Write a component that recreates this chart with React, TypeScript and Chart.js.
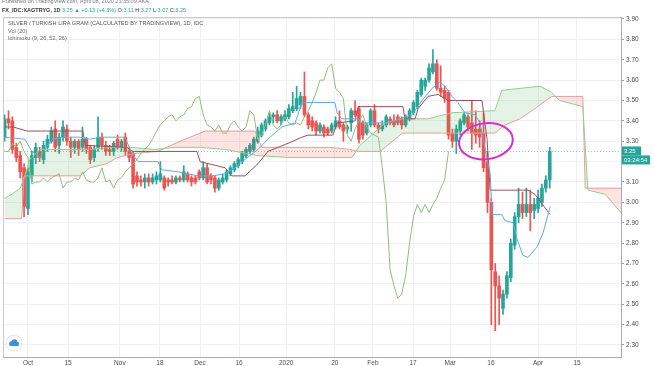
import React, { useEffect, useRef } from 'react';
import { Chart, registerables } from 'chart.js';
Chart.register(...registerables);

// ---- daily candles (bar index 0 .. 140) ----
const opens = [
  3.32, 3.41, 3.40, 3.27, 3.23, 3.17, 2.97, 3.13, 3.22, 3.25,
  3.21, 3.27, 3.30, 3.36, 3.28, 3.32, 3.36, 3.30, 3.27, 3.30,
  3.27, 3.31, 3.27, 3.22, 3.27, 3.32, 3.28, 3.26, 3.25, 3.31,
  3.27, 3.32, 3.25, 3.24, 3.13, 3.11, 3.10, 3.12, 3.10, 3.11,
  3.11, 3.12, 3.11, 3.11, 3.10, 3.12, 3.11, 3.14, 3.12, 3.12,
  3.15, 3.12, 3.17, 3.13, 3.12, 3.07, 3.10, 3.11, 3.14, 3.16,
  3.18, 3.20, 3.23, 3.25, 3.26, 3.30, 3.33, 3.36, 3.39, 3.42,
  3.43, 3.40, 3.41, 3.42, 3.45, 3.46, 3.48, 3.52, 3.43, 3.40,
  3.39, 3.35, 3.37, 3.36, 3.35, 3.37, 3.40, 3.38, 3.36, 3.39,
  3.45, 3.46, 3.39, 3.34, 3.38, 3.45, 3.38, 3.36, 3.38, 3.41,
  3.40, 3.42, 3.41, 3.38, 3.41, 3.44, 3.47, 3.53, 3.57, 3.60,
  3.64, 3.68, 3.56, 3.55, 3.54, 3.34, 3.30, 3.35, 3.39, 3.42,
  3.39, 3.36, 3.36, 3.34, 3.20, 3.00, 2.66, 2.59, 2.48, 2.55,
  2.63, 2.79, 2.93, 2.99, 2.95, 2.99, 2.96, 2.97, 3.00, 3.07,
  3.11,
];
const highs = [
  3.43, 3.45, 3.42, 3.29, 3.25, 3.19, 3.17, 3.25, 3.29, 3.27,
  3.30, 3.33, 3.37, 3.40, 3.34, 3.40, 3.38, 3.32, 3.31, 3.31,
  3.37, 3.32, 3.28, 3.28, 3.42, 3.34, 3.30, 3.28, 3.30, 3.33,
  3.31, 3.34, 3.27, 3.25, 3.15, 3.13, 3.14, 3.14, 3.14, 3.15,
  3.20, 3.13, 3.12, 3.13, 3.13, 3.13, 3.18, 3.15, 3.13, 3.13,
  3.16, 3.20, 3.19, 3.14, 3.13, 3.12, 3.14, 3.16, 3.18, 3.20,
  3.22, 3.25, 3.27, 3.29, 3.32, 3.37, 3.39, 3.41, 3.44, 3.44,
  3.45, 3.43, 3.45, 3.48, 3.54, 3.57, 3.54, 3.64, 3.44, 3.42,
  3.40, 3.39, 3.38, 3.37, 3.39, 3.42, 3.45, 3.39, 3.38, 3.46,
  3.50, 3.47, 3.40, 3.39, 3.46, 3.48, 3.39, 3.40, 3.43, 3.42,
  3.43, 3.43, 3.42, 3.43, 3.46, 3.50, 3.55, 3.61, 3.61, 3.68,
  3.75, 3.70, 3.67, 3.57, 3.55, 3.36, 3.38, 3.41, 3.44, 3.43,
  3.50, 3.45, 3.40, 3.44, 3.25, 3.02, 2.70, 2.64, 2.57, 2.66,
  2.82, 2.95, 3.07, 3.05, 3.07, 3.06, 3.02, 3.06, 3.09, 3.13,
  3.27,
];
const lows = [
  3.30, 3.36, 3.24, 3.20, 3.12, 2.93, 2.94, 3.10, 3.19, 3.20,
  3.19, 3.25, 3.29, 3.25, 3.24, 3.30, 3.28, 3.22, 3.24, 3.23,
  3.25, 3.24, 3.19, 3.20, 3.25, 3.26, 3.23, 3.23, 3.23, 3.26,
  3.25, 3.23, 3.20, 3.07, 3.08, 3.08, 3.07, 3.08, 3.09, 3.09,
  3.10, 3.06, 3.08, 3.09, 3.09, 3.10, 3.10, 3.10, 3.08, 3.09,
  3.11, 3.11, 3.09, 3.09, 3.05, 3.06, 3.09, 3.10, 3.13, 3.15,
  3.17, 3.19, 3.22, 3.24, 3.25, 3.29, 3.32, 3.35, 3.38, 3.39,
  3.39, 3.38, 3.40, 3.41, 3.44, 3.45, 3.46, 3.42, 3.36, 3.35,
  3.33, 3.34, 3.32, 3.33, 3.34, 3.36, 3.36, 3.30, 3.34, 3.35,
  3.42, 3.29, 3.31, 3.33, 3.37, 3.37, 3.34, 3.35, 3.37, 3.38,
  3.37, 3.38, 3.36, 3.37, 3.40, 3.43, 3.46, 3.52, 3.55, 3.59,
  3.63, 3.55, 3.52, 3.49, 3.31, 3.27, 3.24, 3.33, 3.38, 3.35,
  3.26, 3.29, 3.27, 3.15, 2.95, 2.40, 2.37, 2.40, 2.45, 2.53,
  2.61, 2.77, 2.90, 2.92, 2.93, 2.86, 2.92, 2.95, 2.98, 3.05,
  3.07,
];
const closes = [
  3.41, 3.39, 3.26, 3.22, 3.15, 2.98, 3.15, 3.23, 3.27, 3.22,
  3.28, 3.31, 3.35, 3.27, 3.32, 3.37, 3.30, 3.27, 3.30, 3.26,
  3.31, 3.26, 3.21, 3.26, 3.32, 3.28, 3.25, 3.25, 3.29, 3.27,
  3.30, 3.25, 3.22, 3.09, 3.10, 3.10, 3.12, 3.10, 3.12, 3.13,
  3.14, 3.07, 3.10, 3.10, 3.12, 3.11, 3.15, 3.11, 3.10, 3.10,
  3.12, 3.17, 3.10, 3.11, 3.07, 3.11, 3.12, 3.15, 3.17, 3.19,
  3.21, 3.24, 3.26, 3.28, 3.31, 3.35, 3.38, 3.40, 3.42, 3.43,
  3.40, 3.42, 3.43, 3.46, 3.47, 3.51, 3.52, 3.43, 3.38, 3.37,
  3.35, 3.38, 3.34, 3.34, 3.38, 3.40, 3.37, 3.35, 3.37, 3.45,
  3.43, 3.31, 3.33, 3.38, 3.45, 3.38, 3.36, 3.38, 3.42, 3.39,
  3.38, 3.39, 3.38, 3.42, 3.45, 3.49, 3.54, 3.60, 3.60, 3.66,
  3.68, 3.56, 3.54, 3.51, 3.33, 3.30, 3.36, 3.40, 3.43, 3.37,
  3.34, 3.33, 3.32, 3.17, 3.00, 2.67, 2.59, 2.53, 2.55, 2.64,
  2.80, 2.93, 2.99, 2.95, 2.99, 2.95, 2.99, 3.02, 3.07, 3.11,
  3.25,
];

// ---- Ichimoku lines: [bar index, price] ----
const tenkan: [number, number][] = [
  [0, 3.32], [5.2, 3.31], [7.0, 3.25], [9.1, 3.22], [10.4, 3.26], [12.2, 3.31], [15.5, 3.32],
  [19.4, 3.32], [21.9, 3.31], [24.5, 3.32], [30.9, 3.32], [32.7, 3.24], [34.3, 3.20], [39.4, 3.20],
  [40.4, 3.16], [44.5, 3.15], [49.7, 3.13], [53.3, 3.13], [56.6, 3.14], [59.2, 3.17], [61.7, 3.21],
  [65.1, 3.26], [67.6, 3.31], [71.2, 3.37], [74.6, 3.39], [76.4, 3.49], [84.8, 3.49], [85.4, 3.44],
  [86.6, 3.41], [90.8, 3.41], [91.8, 3.39], [98.5, 3.39], [104.6, 3.43], [107.2, 3.50], [109.8, 3.56],
  [111.8, 3.59], [113.1, 3.57], [114.9, 3.52], [116.4, 3.49], [118.2, 3.44], [120.8, 3.43],
  [122.1, 3.39], [122.9, 3.31], [124.7, 3.14], [125.2, 2.94], [127.7, 2.94], [128.5, 2.91],
  [130.6, 2.90], [131.6, 2.82], [133.1, 2.74], [134.4, 2.73], [136.7, 2.78], [138.3, 2.85], [140.1, 2.98],
];
const kijun: [number, number][] = [
  [0, 3.37], [2.2, 3.37], [5.8, 3.35], [20.1, 3.35], [20.7, 3.28], [31.4, 3.27], [33.0, 3.25],
  [49.4, 3.25], [50.2, 3.20], [56.6, 3.17], [58.4, 3.13], [61.7, 3.13], [65.1, 3.19], [67.6, 3.25],
  [72.8, 3.29], [76.4, 3.32], [77.9, 3.33], [84.3, 3.33], [85.4, 3.39], [90.0, 3.40], [90.8, 3.47],
  [102.3, 3.47], [102.8, 3.41], [105.4, 3.41], [106.2, 3.46], [108.7, 3.52], [111.3, 3.53],
  [113.9, 3.50], [122.6, 3.50], [123.9, 3.31], [124.7, 3.06], [134.4, 3.06], [136.2, 3.04], [140.1, 2.94],
];
const spanA: [number, number][] = [
  [0, 3.02], [1.9, 3.04], [4.0, 3.07], [5.2, 3.13], [6.5, 3.21], [9.1, 3.26], [14.2, 3.26],
  [21.9, 3.26], [27.1, 3.27], [32.2, 3.27], [38.6, 3.26], [43.8, 3.27], [50.2, 3.27], [56.6, 3.26],
  [64.8, 3.23], [73.3, 3.22], [83.6, 3.22], [89.2, 3.22], [91.3, 3.28], [97.7, 3.39], [102.1, 3.41],
  [108.7, 3.41], [114.9, 3.44], [125.9, 3.45], [127.7, 3.55], [137.5, 3.57], [140.5, 3.54],
  [142.5, 3.50], [146.5, 3.48], [148.5, 3.47], [149.8, 3.06], [154.2, 3.04], [156.0, 3.00], [158.3, 2.95],
];
const spanB: [number, number][] = [
  [0, 2.92], [4.4, 2.92], [5.0, 3.13], [19.4, 3.13], [21.9, 3.17], [26.3, 3.19], [28.9, 3.22],
  [33.5, 3.24], [39.4, 3.25], [43.8, 3.29], [51.5, 3.35], [64.3, 3.35], [66.1, 3.27], [83.6, 3.27],
  [88.7, 3.26], [90.8, 3.25], [96.4, 3.25], [100.3, 3.31], [102.1, 3.34], [125.9, 3.34],
  [128.5, 3.38], [132.4, 3.41], [136.2, 3.46], [140.5, 3.52], [148.5, 3.52], [149.1, 3.07], [158.3, 3.07],
];
const LAG = 26;

// ---- axes ----
const xTickIdx = [6, 16.3, 29.6, 39.9, 50.2, 60.2, 72.3, 84.8, 94.6, 104.9, 114.4, 124.9, 137, 147];
const xTickLabels = ['Oct', '15', 'Nov', '18', 'Dec', '16', '2020', '20', 'Feb', '17', 'Mar', '16', 'Apr', '15'];
const yTicks = [2.3, 2.4, 2.5, 2.6, 2.7, 2.8, 2.9, 3.0, 3.1, 3.2, 3.3, 3.4, 3.5, 3.6, 3.7, 3.8, 3.9];
const lastPrice = 3.25;
const lastTime = '03:24:54';

const GREEN = '#26a69a';
const RED = '#ef5350';
const CLOUD_UP = 'rgba(76,175,80,0.15)';
const CLOUD_DOWN = 'rgba(244,67,54,0.14)';

const overlay = {
  id: 'overlay',
  beforeDatasetsDraw(chart: any) {
    const { ctx, chartArea: a, scales } = chart;
    const y = scales.y.getPixelForValue(lastPrice);
    ctx.save();
    ctx.strokeStyle = 'rgba(38,166,154,0.55)';
    ctx.lineWidth = 1;
    ctx.setLineDash([1, 2]);
    ctx.beginPath();
    ctx.moveTo(a.left, Math.round(y) + 0.5);
    ctx.lineTo(a.right, Math.round(y) + 0.5);
    ctx.stroke();
    ctx.restore();
  },
  afterDraw(chart: any) {
    const { ctx, chartArea: a, scales } = chart;
    ctx.save();
    ctx.strokeStyle = '#c8cad0';
    ctx.lineWidth = 1;
    ctx.beginPath();
    ctx.moveTo(a.left + 0.5, a.bottom);
    ctx.lineTo(a.left + 0.5, a.top + 0.5);
    ctx.lineTo(a.right, a.top + 0.5);
    ctx.stroke();

    const cx = scales.x.getPixelForValue(123.6);
    const cy = scales.y.getPixelForValue(3.30);
    ctx.strokeStyle = '#d929d9';
    ctx.lineWidth = 2;
    ctx.beginPath();
    ctx.ellipse(cx, cy, 27, 18, -0.12, 0, Math.PI * 2);
    ctx.stroke();

    const py = scales.y.getPixelForValue(lastPrice);
    ctx.fillStyle = GREEN;
    ctx.fillRect(a.right + 1, py - 5, 19, 9);
    ctx.fillRect(a.right + 1, py + 4, 28, 9);
    ctx.fillStyle = '#ffffff';
    ctx.font = '6px "Liberation Sans", Arial, sans-serif';
    ctx.textBaseline = 'middle';
    ctx.textAlign = 'left';
    ctx.fillText(lastPrice.toFixed(2), a.right + 3, py);
    ctx.fillText(lastTime, a.right + 3, py + 8.5);

    const lx = 14, ly = 343;
    ctx.fillStyle = '#ffffff';
    ctx.strokeStyle = '#e3e5ea';
    ctx.lineWidth = 1;
    ctx.beginPath();
    ctx.arc(lx, ly, 8, 0, Math.PI * 2);
    ctx.fill();
    ctx.stroke();
    ctx.fillStyle = '#3c8fd8';
    ctx.beginPath();
    ctx.arc(lx - 2.5, ly + 0.5, 2.3, 0, Math.PI * 2);
    ctx.arc(lx + 0.5, ly - 1, 2.8, 0, Math.PI * 2);
    ctx.arc(lx + 3, ly + 0.8, 2, 0, Math.PI * 2);
    ctx.fill();
    ctx.fillRect(lx - 4.5, ly + 0.5, 9, 2.5);
    ctx.restore();
  },
};

export default function App() {
  const ref = useRef<HTMLCanvasElement | null>(null);

  useEffect(() => {
    document.body.style.margin = '0';
    document.body.style.background = '#ffffff';
    const canvas = ref.current;
    if (!canvas) return;
    const idx = closes.map((_, i) => i);
    const colors = idx.map((i) => (closes[i] >= opens[i] ? GREEN : RED));
    const bodies = idx.map((i) => ({ x: i, y: [opens[i], closes[i]] }));
    const wicks = idx.map((i) => ({ x: i, y: [lows[i], highs[i]] }));
    const pts = (arr: [number, number][]) => arr.map(([x, y]) => ({ x, y }));
    const chikou = closes.map((c, i) => ({ x: i - LAG, y: c }));

    const chart = new Chart(canvas, {
      type: 'bar',
      data: {
        datasets: [
          {
            type: 'line', label: 'Conversion', data: pts(tenkan), borderColor: '#62a8e8',
            borderWidth: 1, pointRadius: 0, order: 1, fill: false,
          },
          {
            type: 'line', label: 'Base', data: pts(kijun), borderColor: '#a04d5a',
            borderWidth: 1, pointRadius: 0, order: 2, fill: false,
          },
          {
            type: 'line', label: 'Lagging', data: chikou, borderColor: '#8cc07a',
            borderWidth: 1, pointRadius: 0, order: 3, fill: false,
          },
          {
            type: 'line', label: 'Lead B', data: pts(spanB), borderColor: '#eea3a3',
            borderWidth: 1, pointRadius: 0, order: 5, fill: false,
          },
          {
            type: 'line', label: 'Lead A', data: pts(spanA), borderColor: '#93cc93',
            borderWidth: 1, pointRadius: 0, order: 4,
            fill: { target: 3, above: CLOUD_UP, below: CLOUD_DOWN },
          },
          {
            type: 'bar', label: 'body', data: bodies as any, backgroundColor: colors,
            barThickness: 3, grouped: false, minBarLength: 1, order: 7,
          },
          {
            type: 'bar', label: 'wick', data: wicks as any, backgroundColor: colors,
            barThickness: 1, grouped: false, order: 8,
          },
        ] as any,
      },
      options: {
        responsive: false,
        animation: false,
        devicePixelRatio: 1,
        events: [],
        layout: { padding: { left: 3, top: 17, right: 0, bottom: 0 } },
        plugins: { legend: { display: false }, tooltip: { enabled: false } },
        scales: {
          x: {
            type: 'linear', min: -0.41, max: 158.3, offset: false,
            grid: { color: '#eef0f4', offset: false, drawTicks: false },
            border: { display: true, color: '#a9abb2' },
            afterBuildTicks: (s: any) => { s.ticks = xTickIdx.map((v) => ({ value: v })); },
            afterFit: (s: any) => { s.height = 9; },
            ticks: {
              autoSkip: false, maxRotation: 0, padding: 2, color: '#4c4c4c',
              font: { size: 6.5, family: '"Liberation Sans", Arial, sans-serif' },
              callback: (_v: any, i: number) => xTickLabels[i],
            },
          },
          y: {
            type: 'linear', position: 'right', min: 2.2411, max: 3.9098,
            grid: { color: '#eef0f4', tickLength: 3, tickColor: '#9a9ca3' },
            border: { display: true, color: '#a9abb2' },
            afterBuildTicks: (s: any) => { s.ticks = yTicks.map((v) => ({ value: v })); },
            afterFit: (s: any) => { s.width = 33; },
            ticks: {
              padding: 2, color: '#4c4c4c',
              font: { size: 6.5, family: '"Liberation Sans", Arial, sans-serif' },
              callback: (v: any) => (Math.abs(v - 3.2) < 1e-6 ? '' : Number(v).toFixed(2)),
            },
          },
        },
      } as any,
      plugins: [overlay],
    });
    return () => chart.destroy();
  }, []);

  const font = '"Liberation Sans", Arial, sans-serif';
  const small: React.CSSProperties = {
    position: 'absolute', whiteSpace: 'nowrap', fontFamily: font, lineHeight: '1',
  };
  const g = { color: GREEN };
  return (
    <div style={{ position: 'relative', width: 654, height: 366, background: '#fff', overflow: 'hidden' }}>
      <canvas ref={ref} width={654} height={366} style={{ display: 'block', width: 654, height: 366 }} />
      <div style={{ ...small, left: 2, top: -1, fontSize: 5.5, color: '#777' }}>
        Published on TradingView.com, April 08, 2020 21:35:09 AKA
      </div>
      <div style={{ ...small, left: 2, top: 8, fontSize: 5.5, color: '#333' }}>
        <b>FX_IDC:XAGTRYG, 1D</b>{' '}
        <span style={g}>3.25 ▲ +0.13 (+4.3%)</span>{' '}
        O:<span style={g}>3.11</span> H:<span style={g}>3.27</span> L:<span style={g}>3.07</span> C:<span style={g}>3.25</span>
      </div>
      <div style={{ ...small, left: 8, top: 21, fontSize: 5.6, color: '#555' }}>
        SILVER / TURKISH LIRA GRAM (CALCULATED BY TRADINGVIEW), 1D, IDC
      </div>
      <div style={{ ...small, left: 8, top: 29, fontSize: 5.6, color: '#666' }}>Vol (20)</div>
      <div style={{ ...small, left: 8, top: 36, fontSize: 5.6, color: '#666' }}>Ichimoku (9, 26, 52, 26)</div>
    </div>
  );
}
